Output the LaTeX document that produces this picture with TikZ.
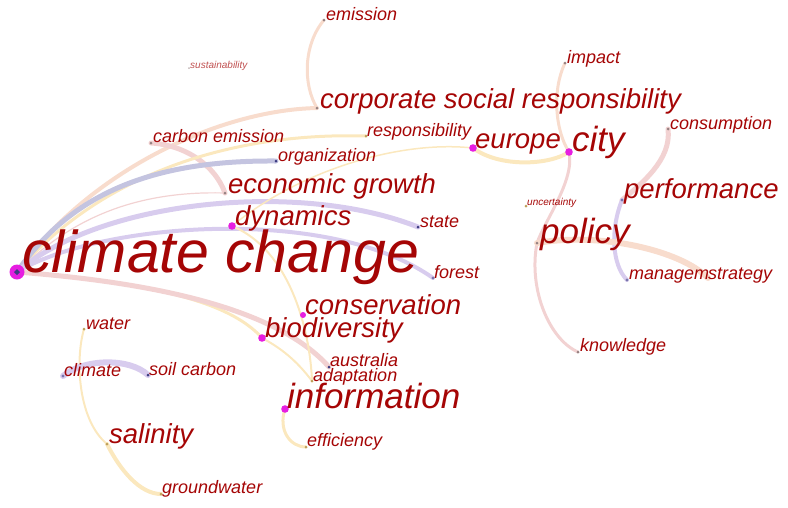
\documentclass[tikz,border=0pt]{standalone}
\usepackage{fontspec}
\setmainfont{Liberation Sans}
\definecolor{tred}{RGB}{165,5,5}
\definecolor{peach}{RGB}{248,220,205}
\definecolor{pinkE}{RGB}{242,210,210}
\definecolor{yel}{RGB}{251,232,190}
\definecolor{lav}{RGB}{216,204,238}
\definecolor{bluegray}{RGB}{196,196,224}
\definecolor{mag}{RGB}{230,30,225}
\definecolor{dgray}{RGB}{150,130,130}
\definecolor{navy}{RGB}{60,60,130}
\definecolor{olive}{RGB}{190,160,90}
\begin{document}
\begin{tikzpicture}[x=1pt,y=-1pt,
  lbl/.style={anchor=base west,inner sep=0pt,text=tred},
  s10/.style={lbl,font=\itshape\fontsize{10}{10}\selectfont},
  s18/.style={lbl,font=\itshape\fontsize{18}{18}\selectfont},
  s27/.style={lbl,font=\itshape\fontsize{27.5}{27.5}\selectfont},
  s35/.style={lbl,font=\itshape\fontsize{35}{35}\selectfont},
  s58/.style={lbl,font=\itshape\fontsize{59}{59}\selectfont},
  edge/.style={line cap=round},
]
\useasboundingbox (0,0) rectangle (788,507);
% dot coordinates
\coordinate (ccD) at (17,272);
\coordinate (dynD) at (232,226);
\coordinate (egD) at (225,193);
\coordinate (csrD) at (317,108);
\coordinate (emD) at (324,20);
\coordinate (susD) at (189,68);
\coordinate (ceD) at (151,143);
\coordinate (respD) at (366,136);
\coordinate (orgD) at (276,161);
\coordinate (euD) at (473,148);
\coordinate (cityD) at (569,152);
\coordinate (impD) at (565,63);
\coordinate (consD) at (668,129);
\coordinate (perfD) at (622,200);
\coordinate (uncD) at (526,206);
\coordinate (polD) at (537,243);
\coordinate (stateD) at (418,227);
\coordinate (forD) at (433,278);
\coordinate (manD) at (627,280);
\coordinate (stratD) at (708,278);
\coordinate (knowD) at (578,352);
\coordinate (consvD) at (303,315);
\coordinate (bioD) at (262,338);
\coordinate (ausD) at (329,367);
\coordinate (adaD) at (312,381);
\coordinate (infD) at (285,409);
\coordinate (effD) at (306,447);
\coordinate (watD) at (84,329);
\coordinate (climD) at (63,376);
\coordinate (soilD) at (148,375);
\coordinate (salD) at (107,444);
\coordinate (gwD) at (161,494);

% edges
\draw[edge,draw=peach,line width=4] (ccD) .. controls (90,170) and (220,110) .. (csrD);
\draw[edge,draw=peach,line width=3] (emD) .. controls (303,45) and (303,85) .. (csrD);
\draw[edge,draw=pinkE,line width=5] (ceD) .. controls (185,145) and (215,165) .. (egD);
\draw[edge,draw=yel,line width=3] (ccD) .. controls (100,175) and (230,132) .. (respD);
\draw[edge,draw=bluegray,line width=5] (ccD) .. controls (70,195) and (150,160) .. (orgD);
\draw[edge,draw=pinkE,line width=1.2] (ccD) .. controls (60,230) and (120,190) .. (egD);
\draw[edge,draw=lav,line width=5] (ccD) .. controls (100,200) and (300,180) .. (stateD);
\draw[edge,draw=lav,line width=4] (ccD) .. controls (100,222) and (330,205) .. (forD);
\draw[edge,draw=yel,line width=1.5] (dynD) .. controls (300,170) and (400,140) .. (euD);
\draw[edge,draw=yel,line width=3] (ccD) .. controls (100,280) and (220,290) .. (bioD);
\draw[edge,draw=pinkE,line width=5] (ccD) .. controls (120,280) and (270,300) .. (ausD);
\draw[edge,draw=yel,line width=2] (bioD) .. controls (285,350) and (300,365) .. (adaD);
\draw[edge,draw=yel,line width=2] (dynD) .. controls (290,250) and (310,330) .. (adaD);
\draw[edge,draw=yel,line width=3] (infD) .. controls (278,430) and (290,447) .. (effD);
\draw[edge,draw=yel,line width=2] (watD) .. controls (75,360) and (78,420) .. (salD);
\draw[edge,draw=yel,line width=4] (salD) .. controls (120,470) and (140,494) .. (gwD);
\draw[edge,draw=lav,line width=6] (climD) .. controls (85,358) and (130,358) .. (soilD);
\draw[edge,draw=yel,line width=4] (euD) .. controls (500,168) and (550,165) .. (cityD);
\draw[edge,draw=peach,line width=3] (impD) .. controls (552,90) and (555,130) .. (cityD);
\draw[edge,draw=pinkE,line width=3] (cityD) .. controls (575,180) and (545,220) .. (polD);
\draw[edge,draw=pinkE,line width=3] (polD) .. controls (528,290) and (550,340) .. (knowD);
\draw[edge,draw=pinkE,line width=5] (consD) .. controls (672,160) and (640,185) .. (perfD);
\draw[edge,draw=lav,line width=4] (perfD) .. controls (610,230) and (612,265) .. (manD);
\draw[edge,draw=peach,line width=6] (polD) .. controls (600,232) and (680,250) .. (stratD);

% dots
\fill[mag] (ccD) circle (7.5);
\fill[navy] (ccD) ++(-3,0) -- ++(3,-3) -- ++(3,3) -- ++(-3,3) -- cycle;
\foreach \p in {dynD,euD,cityD,bioD,infD}{\fill[mag] (\p) circle (3.8);}
\fill[mag] (consvD) circle (3);
\foreach \p in {egD,csrD,emD,ceD,impD,consD,polD,knowD}{\fill[dgray] (\p) circle (1.5);}
\foreach \p in {orgD,stateD,ausD,soilD}{\fill[navy] (\p) circle (1.5);}
\foreach \p in {forD,perfD,manD,climD}{\fill[navy!60!lav] (\p) circle (1.6);}
\foreach \p in {respD,uncD,adaD,effD,watD,salD,gwD}{\fill[olive] (\p) circle (1.5);}
\fill[dgray!60] (susD) circle (1);

% labels
\node[s58] (cc) at (22,272) {climate change};
\node[s27] (dyn) at (235,225) {dynamics};
\node[s27] (eg) at (228,193) {economic growth};
\node[s27] (csr) at (320,108) {corporate social responsibility};
\node[s18] (em) at (326,20) {emission};
\node[s10,text=tred!70] (sus) at (190,68) {sustainability};
\node[s18] (ce) at (153,142) {carbon emission};
\node[s18] (resp) at (367,136) {responsibility};
\node[s18] (org) at (278,161) {organization};
\node[s27] (eu) at (475,148) {europe};
\node[s35] (city) at (572,151) {city};
\node[s18] (imp) at (567,63) {impact};
\node[s18] (cons) at (670,129) {consumption};
\node[s27] (perf) at (624,198) {performance};
\node[s10] (unc) at (527,205) {uncertainty};
\node[s35] (pol) at (540,243) {policy};
\node[s18] (state) at (420,227) {state};
\node[s18] (for) at (434,278) {forest};
\node[s18] (man) at (629,279) {managem};
\node[s18] (strat) at (708,279) {strategy};
\node[s18] (know) at (580,351) {knowledge};
\node[s27] (consv) at (305,314) {conservation};
\node[s27] (bio) at (265,337) {biodiversity};
\node[s18] (aus) at (330,366) {australia};
\node[s18] (ada) at (313,381) {adaptation};
\node[s35] (inf) at (287,408) {information};
\node[s18] (eff) at (307,446) {efficiency};
\node[s18] (wat) at (86,329) {water};
\node[s18] (clim) at (64,376) {climate};
\node[s18] (soil) at (149,375) {soil carbon};
\node[s27] (sal) at (109,443) {salinity};
\node[s18] (gw) at (162,493) {groundwater};
\end{tikzpicture}
\end{document}
